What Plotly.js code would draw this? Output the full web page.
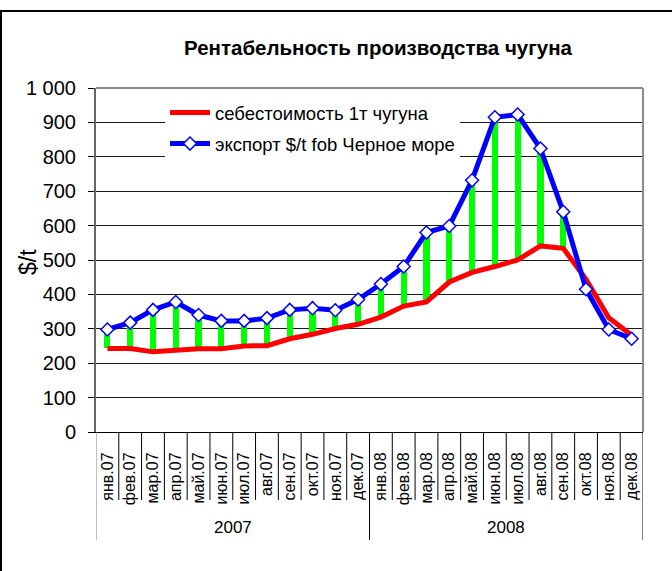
<!DOCTYPE html>
<html>
<head>
<meta charset="utf-8">
<script src="https://cdn.plot.ly/plotly-3.0.1.min.js"></script>
<style>html,body{margin:0;padding:0;background:#fff;}#chart{width:672px;height:571px;}</style>
</head>
<body>
<div id="chart"></div>
<script>
// ---- data ----
const months = ["янв.07","фев.07","мар.07","апр.07","май.07","июн.07","июл.07","авг.07","сен.07","окт.07","ноя.07","дек.07",
                "янв.08","фев.08","мар.08","апр.08","май.08","июн.08","июл.08","авг.08","сен.08","окт.08","ноя.08","дек.08"];
const years = ["2007", "2008"];
const costPerTon = [243,243,233,237,242,242,250,251,271,284,301,313, 334,366,378,436,464,481,500,541,534,444,332,281];
const exportFob = [298,318,355,378,340,323,323,331,355,360,354,385, 430,481,580,599,732,915,923,824,640,415,298,271];
const seriesNames = ["себестоимость 1т чугуна", "экспорт $/t fob Черное море"];
const titleText = "Рентабельность производства чугуна";
const yTitle = "$/t";

// ---- build ----
const FONT = "Liberation Sans, Arial, sans-serif";
const margin = costPerTon.map((c, i) => exportFob[i] > c ? exportFob[i] - c : null);

const traces = [
  { type: "bar", x: months, y: margin, base: costPerTon, width: 0.27,
    marker: { color: "#00FF00", line: { width: 0 } }, showlegend: false, hoverinfo: "skip" },
  { type: "scatter", mode: "lines", x: months, y: costPerTon, name: seriesNames[0], legendgroup: "a",
    line: { color: "#FF0000", width: 5 } },
  { type: "scatter", mode: "lines+markers", x: months, y: exportFob, name: seriesNames[1], legendgroup: "b",
    line: { color: "#0000FF", width: 5 },
    marker: { symbol: "diamond", size: 10, color: "#FFFFFF", line: { color: "#0000FF", width: 1.5 } } }
];

const L = 96, R = 643, T = 88, B = 432, W = 672, H = 571;
const pw = R - L, ph = B - T;
const py = y => (B - y) / ph;   // pixel y -> paper y
const px = x => (x - L) / pw;   // pixel x -> paper x

const shapes = [];
// month dividers
for (let i = 0; i <= months.length; i++) {
  const longLine = (i === 0 || i === months.length || i === 12);
  shapes.push({ type: "line", xref: "x", yref: "paper", x0: i - 0.5, x1: i - 0.5,
    y0: 0, y1: py(longLine ? 540 : 500),
    line: { color: (i === 0) ? "#808080" : "#000000", width: 1 } });
}
// plot border top & right (gray)
shapes.push({ type: "line", xref: "paper", yref: "paper", x0: 0, x1: 1, y0: 1, y1: 1, line: { color: "#8c8c8c", width: 2 }, layer: "above" });
shapes.push({ type: "line", xref: "paper", yref: "paper", x0: 1, x1: 1, y0: 0, y1: 1, line: { color: "#8c8c8c", width: 2 }, layer: "above" });
// outer frame (top & left)
shapes.push({ type: "line", xref: "paper", yref: "paper", x0: px(0), x1: px(W), y0: py(11), y1: py(11), line: { color: "#000", width: 2 } });
shapes.push({ type: "line", xref: "paper", yref: "paper", x0: px(1), x1: px(1), y0: py(11), y1: py(H), line: { color: "#000", width: 2 } });

const annotations = [
  { text: years[0], xref: "x", yref: "paper", x: 5.5, y: py(527), showarrow: false,
    font: { family: FONT, size: 17, color: "#000" }, xanchor: "center", yanchor: "middle" },
  { text: years[1], xref: "x", yref: "paper", x: 17.5, y: py(527), showarrow: false,
    font: { family: FONT, size: 17, color: "#000" }, xanchor: "center", yanchor: "middle" },
  { text: yTitle, xref: "paper", yref: "paper", x: px(28), y: py(262), showarrow: false, textangle: -90,
    font: { family: FONT, size: 23, color: "#000" }, xanchor: "center", yanchor: "middle" }
];

const layout = {
  width: W, height: H,
  margin: { l: L, r: W - R, t: T, b: H - B, pad: 0 },
  paper_bgcolor: "#fff", plot_bgcolor: "#fff",
  separators: ", ",
  font: { family: FONT, color: "#000" },
  title: { text: "<b>" + titleText + "</b>", x: 378 / W, xanchor: "center", y: 1 - 48 / H, yanchor: "middle",
    font: { family: FONT, size: 20.5, color: "#000" } },
  showlegend: true,
  legend: { x: px(165), y: py(94), xanchor: "left", yanchor: "top", bgcolor: "#fff", borderwidth: 0,
    font: { family: FONT, size: 18.5, color: "#000" }, tracegroupgap: 4, itemwidth: 40, traceorder: "grouped" },
  xaxis: { type: "category", categoryarray: months, range: [-0.5, months.length - 0.5],
    tickmode: "linear", tick0: 0, dtick: 1,
    tickangle: -90, ticks: "", showgrid: false, zeroline: false,
    showline: true, linecolor: "#000", linewidth: 1, ticklabelstandoff: 13,
    tickfont: { family: FONT, size: 16, color: "#000" } },
  yaxis: { range: [0, 1000], dtick: 100, tickformat: ",d", ticks: "outside", ticklen: 6, tickcolor: "#000",
    showgrid: true, gridcolor: "#1a1a1a", gridwidth: 1, zeroline: false,
    showline: true, linecolor: "#666", linewidth: 2,
    tickfont: { family: FONT, size: 20, color: "#000" }, ticklabelstandoff: 8 },
  bargap: 0,
  shapes: shapes,
  annotations: annotations
};

Plotly.newPlot("chart", traces, layout, { staticPlot: true, displayModeBar: false });
</script>
</body>
</html>
